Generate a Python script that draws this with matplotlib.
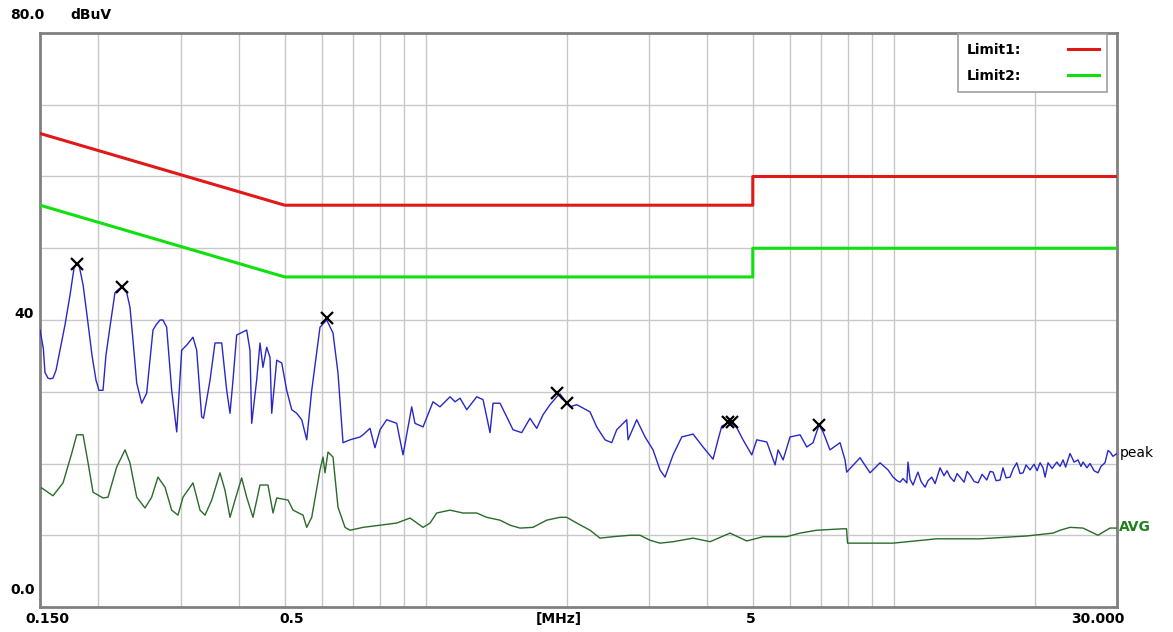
import matplotlib
matplotlib.use("Agg")
import matplotlib.pyplot as plt
from matplotlib.lines import Line2D

# Limit lines (MHz, dBuV)
limit_f = [0.15, 0.5, 5.0, 5.0, 30.0]
limit1_db = [66, 56, 56, 60, 60]
limit2_db = [56, 46, 46, 50, 50]

# Peak trace
peak_f = [0.150, 0.1525, 0.1537, 0.1560, 0.1576, 0.1599, 0.1623, 0.1655, 0.1696, 0.1739,
          0.1773, 0.1797, 0.1817, 0.1854, 0.1890, 0.1937, 0.1976, 0.2005, 0.2045, 0.2075,
          0.2116, 0.2169, 0.2202, 0.2242, 0.2298, 0.2335, 0.237, 0.2414, 0.2474, 0.2535,
          0.2577, 0.2615, 0.2654, 0.2707, 0.2747, 0.2797, 0.2867, 0.2939, 0.3012, 0.3087,
          0.3184, 0.3242, 0.3323, 0.3353, 0.3462, 0.3548, 0.3667, 0.3758, 0.382, 0.3876,
          0.3947, 0.4146, 0.4214, 0.425, 0.4355, 0.4427, 0.4492, 0.4575, 0.4651, 0.469,
          0.4807, 0.4927, 0.5049, 0.5175, 0.5304, 0.5436, 0.5571, 0.571, 0.5947, 0.6146,
          0.634, 0.6498, 0.666, 0.6894, 0.7242, 0.735, 0.7605, 0.7794, 0.799, 0.8256,
          0.8674, 0.8947, 0.917, 0.9338, 0.949, 0.9873, 1.037, 1.073, 1.1275, 1.1557,
          1.1845, 1.2241, 1.2858, 1.3263, 1.3728, 1.3932, 1.4421, 1.4905, 1.5373, 1.604,
          1.671, 1.727, 1.782, 1.844, 1.906, 1.937, 2.002, 2.035, 2.103, 2.245,
          2.32, 2.417, 2.498, 2.56, 2.69, 2.707, 2.825, 2.943, 3.061, 3.168,
          3.247, 3.378, 3.526, 3.727, 3.915, 4.112, 4.214, 4.292, 4.47, 4.621,
          4.766, 4.975, 5.099, 5.357, 5.58, 5.663, 5.804, 6.006, 6.309, 6.52,
          6.725, 6.928, 7.065, 7.31, 7.68, 7.871, 7.937, 8.474, 8.903, 9.352,
          9.728, 9.97, 10.17, 10.32, 10.47, 10.67, 10.73, 10.84, 11.0, 11.17,
          11.27, 11.44, 11.67, 11.84, 12.06, 12.26, 12.56, 12.81, 13.0, 13.2,
          13.46, 13.66, 13.86, 14.14, 14.35, 14.56, 14.85, 15.15, 15.45, 15.81,
          16.07, 16.31, 16.55, 16.88, 17.12, 17.38, 17.73, 17.99, 18.32, 18.62,
          18.9, 19.18, 19.56, 19.95, 20.25, 20.55, 20.85, 21.06, 21.37, 21.8,
          22.31, 22.67, 23.01, 23.3, 23.81, 24.29, 24.76, 25.13, 25.38, 25.88,
          26.27, 26.79, 27.32, 27.73, 28.28, 28.7, 28.99, 29.41, 30.0]
peak_db = [38.6, 36.0, 32.7, 31.9, 31.8, 31.9, 33.0, 35.8, 39.3, 43.5,
           47.2, 47.9, 47.7, 44.9, 40.7, 35.1, 31.6, 30.2, 30.2, 35.1,
           39.0, 43.8, 44.2, 44.6, 43.8, 41.8, 37.2, 31.2, 28.4, 29.8,
           34.4, 38.6, 39.3, 40.0, 40.0, 39.0, 30.2, 24.4, 35.8, 36.5,
           37.6, 35.8, 26.5, 26.3, 31.6, 36.8, 36.8, 30.2, 27.0, 31.6,
           37.9, 38.6, 35.8, 25.6, 31.6, 36.8, 33.4, 36.2, 34.8, 27.0,
           34.4, 34.0, 30.2, 27.5, 27.0, 26.1, 23.3, 30.2, 39.0, 40.0,
           38.2, 32.6, 22.9, 23.3, 23.7, 24.0, 24.9, 22.2, 24.7, 26.1,
           25.6, 21.2, 25.1, 27.9, 25.6, 25.1, 28.6, 27.9, 29.3, 28.6,
           29.1, 27.5, 29.3, 28.9, 24.3, 28.4, 28.4, 26.5, 24.7, 24.3,
           26.3, 24.9, 26.8, 28.2, 29.3, 29.7, 28.4, 27.9, 28.2, 27.2,
           25.1, 23.3, 22.9, 24.7, 26.1, 23.3, 26.1, 23.7, 21.9, 19.1,
           18.1, 21.2, 23.7, 24.1, 22.3, 20.6, 23.3, 25.2, 25.8, 25.0,
           23.3, 21.2, 23.3, 23.0, 19.8, 21.9, 20.5, 23.7, 24.0, 22.3,
           22.9, 25.4, 24.4, 21.9, 22.9, 20.5, 18.8, 20.8, 18.7, 20.1,
           19.1, 18.1, 17.6, 17.4, 17.9, 17.3, 20.2, 17.8, 17.0, 18.2,
           18.8, 17.5, 16.7, 17.6, 18.1, 17.2, 19.4, 18.3, 19.0, 18.1,
           17.5, 18.6, 18.1, 17.4, 18.9, 18.4, 17.5, 17.3, 18.5, 17.7,
           18.9, 18.8, 17.6, 17.7, 19.4, 18.0, 18.1, 19.2, 20.1, 18.6,
           18.7, 19.8, 19.1, 19.9, 19.0, 20.1, 19.4, 18.1, 20.1, 19.3,
           20.2, 19.6, 20.5, 19.5, 21.4, 20.2, 20.5, 19.6, 20.2, 19.4,
           20.0, 19.0, 18.7, 19.6, 20.1, 21.8, 21.6, 21.0, 21.4]

# Average trace
avg_f = [0.1512, 0.1599, 0.168, 0.1753, 0.1797, 0.1854, 0.190, 0.1947, 0.2045, 0.2096,
         0.2187, 0.2279, 0.2335, 0.2414, 0.2514, 0.2598, 0.268, 0.2774, 0.2867, 0.2957,
         0.3031, 0.3184, 0.3296, 0.3378, 0.3491, 0.3636, 0.3726, 0.382, 0.3915, 0.4045,
         0.4146, 0.4277, 0.4427, 0.4604, 0.472, 0.4807, 0.5082, 0.5208, 0.5471, 0.5571,
         0.571, 0.5947, 0.6036, 0.6095, 0.6186, 0.634, 0.6498, 0.6726, 0.6894, 0.735,
         0.799, 0.8674, 0.926, 0.9873, 1.022, 1.056, 1.1275, 1.202, 1.2858, 1.35,
         1.4421, 1.515, 1.591, 1.695, 1.814, 1.937, 2.002, 2.103, 2.245, 2.358,
         2.514, 2.734, 2.871, 3.016, 3.168, 3.378, 3.727, 4.052, 4.47, 4.855,
         5.26, 5.909, 6.309, 6.85, 7.794, 7.93, 7.969, 9.97, 12.34, 15.27,
         19.25, 21.9, 22.67, 23.81, 25.38, 27.32, 28.99, 30.0]
avg_db = [16.6, 15.5, 17.3, 21.4, 24.0, 24.0, 20.1, 16.0, 15.2, 15.3,
          19.5, 21.9, 20.1, 15.3, 13.8, 15.3, 18.1, 16.7, 13.5, 12.8,
          15.3, 17.3, 13.5, 12.8, 14.9, 18.7, 16.3, 12.5, 14.9, 18.0,
          15.3, 12.5, 17.0, 17.0, 13.1, 15.2, 14.9, 13.5, 12.8, 11.1,
          12.5, 19.1, 20.9, 18.7, 21.6, 20.9, 13.9, 11.1, 10.7, 11.1,
          11.4, 11.7, 12.4, 11.1, 11.7, 13.1, 13.5, 13.1, 13.1, 12.5,
          12.1, 11.4, 11.0, 11.1, 12.1, 12.5, 12.5, 11.7, 10.7, 9.6,
          9.8, 10.0, 10.0, 9.3, 8.9, 9.1, 9.6, 9.1, 10.3, 9.2,
          9.8, 9.8, 10.3, 10.7, 10.9, 10.9, 8.9, 8.9, 9.5, 9.5,
          9.9, 10.3, 10.7, 11.1, 11.0, 10.0, 11.0, 11.0]

# Marked peaks
mark_f = [0.1797, 0.2242, 0.6146, 1.906, 2.002, 4.43, 4.51, 6.928]
mark_db = [47.8, 44.6, 40.3, 29.8, 28.4, 25.8, 25.8, 25.4]

W, H = 1173, 632
fig = plt.figure(figsize=(W / 100, H / 100), dpi=100)
ax = fig.add_axes([40 / W, 1 - 607 / H, 1077 / W, 574 / H])

ax.set_xscale("log")
ax.set_xlim(0.15, 30)
ax.set_ylim(0, 80)

# grid like the receiver software
vgrid = [0.2, 0.3, 0.4, 0.5, 0.6, 0.7, 0.8, 0.9, 1, 2, 3, 4, 5, 6, 7, 8, 9, 10, 20]
for f in vgrid:
    ax.axvline(f, color="#c8c8c8", lw=1, zorder=0)
for d in range(10, 80, 10):
    ax.axhline(d, color="#c8c8c8", lw=1, zorder=0)

ax.set_xticks([])
ax.set_yticks([])
ax.minorticks_off()
for s in ax.spines.values():
    s.set_color("#808080")
    s.set_linewidth(2)

ax.plot(limit_f, limit1_db, color="#e01818", lw=2.2, zorder=3)
ax.plot(limit_f, limit2_db, color="#10e010", lw=2.2, zorder=3)
ax.plot(peak_f, peak_db, color="#2828c8", lw=1, zorder=4)
ax.plot(avg_f, avg_db, color="#2a6a2a", lw=1, zorder=4)
ax.plot(mark_f, mark_db, "x", color="black", ms=8, mew=1.6, zorder=5)

handles = [Line2D([], [], color="#e01818", lw=2.2),
           Line2D([], [], color="#10e010", lw=2.2)]
leg = ax.legend(handles, ["Limit1:", "Limit2:"], loc="upper right",
                bbox_to_anchor=(0.992, 1.0), borderaxespad=0.1, markerfirst=False,
                fancybox=False, framealpha=1, edgecolor="#a0a0a0",
                handlelength=2.2, handletextpad=3.4, labelspacing=0.9,
                borderpad=0.6, prop={"weight": "bold", "size": 10})
leg.get_frame().set_linewidth(1.2)


def ftext(x, y, s, **kw):
    fig.text(x / W, 1 - y / H, s, fontsize=10, fontweight="bold", va="center", **kw)


ftext(10, 15, "80.0")
ftext(70, 15, "dBuV")
ftext(34, 314, "40", ha="right")
ftext(10, 590, "0.0")
ftext(47, 619, "0.150", ha="center")
ftext(292, 619, "0.5", ha="center")
ftext(559, 619, "[MHz]", ha="center")
ftext(751, 619, "5", ha="center")
ftext(1125, 619, "30.000", ha="right")
fig.text(1120 / W, 1 - 453 / H, "peak", fontsize=10, va="center", color="black")
ftext(1119, 527, "AVG", color="#208020")

fig.savefig("out.png", dpi=100, facecolor="white")
